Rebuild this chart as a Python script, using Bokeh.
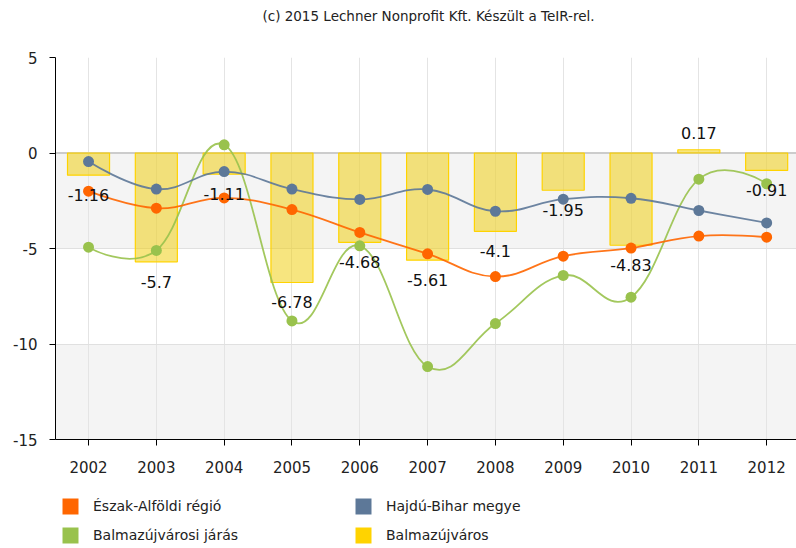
import numpy as np
from bokeh.plotting import figure
from bokeh.layouts import column
from bokeh.models import (ColumnDataSource, BoxAnnotation, Span, Legend, LegendItem,
                          FixedTicker, Label)
from bokeh.core.properties import value
from bokeh.embed import file_html
from bokeh.resources import INLINE

years = ["2002", "2003", "2004", "2005", "2006", "2007", "2008", "2009", "2010", "2011", "2012"]
eszak_alfoldi = [-2.00, -2.89, -2.35, -2.96, -4.16, -5.28, -6.47, -5.40, -4.98, -4.35, -4.41]
hajdu_bihar = [-0.45, -1.89, -0.97, -1.89, -2.43, -1.91, -3.05, -2.42, -2.37, -3.01, -3.66]
balmaz_jaras = [-4.93, -5.10, 0.43, -8.79, -4.86, -11.18, -8.93, -6.41, -7.55, -1.37, -1.61]
balmazujvaros = [-1.16, -5.70, -1.11, -6.78, -4.68, -5.61, -4.10, -1.95, -4.83, 0.17, -0.91]
y_ticks = [-15, -10, -5, 0, 5]
series_names = ["Észak-Alföldi régió", "Hajdú-Bihar megye", "Balmazújvárosi járás", "Balmazújváros"]
title_text = "(c) 2015 Lechner Nonprofit Kft. Készült a TeIR-rel."

C_OR = "#ff6600"
C_BL = "#5d7898"
C_GR = "#99c24d"
C_GO = "#ffd300"
FONT = "DejaVu Sans"

xs = list(range(len(years)))

# title strip (its frame is aligned with the main frame, which starts 55px in)
tf = figure(width=796, height=30, output_backend="svg", toolbar_location=None,
            x_range=(0, 1), y_range=(0, 1), min_border=0, outline_line_color=None)
tf.axis.visible = False
tf.grid.visible = False
tf.add_layout(Label(x=373, y=15, x_units="screen", y_units="screen", text=title_text,
                    text_align="center", text_baseline="middle", text_font=FONT,
                    text_font_size="13.5px", text_color="#222222"))

p = figure(width=796, height=454, output_backend="svg", toolbar_location=None,
           x_range=(-0.487, 10.44), y_range=(-15, 5),
           min_border_left=55, min_border_right=0, min_border_top=27, min_border_bottom=45,
           outline_line_color=None, background_fill_color="white")

# bands
for top, bot in [(0, -5), (-10, -15)]:
    p.add_layout(BoxAnnotation(top=top, bottom=bot, fill_color="#f4f4f4", fill_alpha=1,
                               line_color=None, level="image"))

p.xgrid.ticker = FixedTicker(ticks=xs)
p.xgrid.grid_line_color = "#e4e4e4"
p.ygrid.grid_line_color = "#e0e0e0"
p.add_layout(Span(location=0, dimension="width", line_color="#cccccc", line_width=2,
                  level="underlay"))

# axes
p.xaxis.ticker = FixedTicker(ticks=xs)
p.xaxis.major_label_overrides = {i: y for i, y in enumerate(years)}
p.yaxis.ticker = FixedTicker(ticks=y_ticks)
p.yaxis.major_label_overrides = {t: str(t) for t in y_ticks}
for ax in (p.xaxis[0], p.yaxis[0]):
    ax.axis_line_color = "black"
    ax.major_tick_line_color = "black"
    ax.major_tick_out = 6
    ax.major_tick_in = 0
    ax.minor_tick_line_color = None
    ax.major_label_text_font = FONT
    ax.major_label_text_font_size = "15px"
    ax.major_label_text_color = "#222222"
p.xaxis.major_label_standoff = 15
p.yaxis.major_label_standoff = 12

# bars
bar_src = ColumnDataSource(dict(x=xs, top=balmazujvaros))
p.vbar(x="x", top="top", bottom=0, width=0.62, source=bar_src,
       fill_color="#f0cc00", fill_alpha=0.5, line_color=C_GO, line_width=1.2)


def spline(xv, yv, smoothing=1.5):
    n = len(xv)
    lcx, lcy, rcx, rcy = list(xv), list(yv), list(xv), list(yv)
    d = smoothing + 1
    for i in range(1, n - 1):
        px, py = xv[i], yv[i]
        lx, ly = xv[i - 1], yv[i - 1]
        nx, ny = xv[i + 1], yv[i + 1]
        Lx = (smoothing * px + lx) / d
        Ly = (smoothing * py + ly) / d
        Rx = (smoothing * px + nx) / d
        Ry = (smoothing * py + ny) / d
        corr = ((Ry - Ly) * (Rx - px)) / (Rx - Lx) + py - Ry
        lcx[i], lcy[i], rcx[i], rcy[i] = Lx, Ly + corr, Rx, Ry + corr
    return dict(x0=xv[:-1], y0=yv[:-1], x1=xv[1:], y1=yv[1:],
                cx0=rcx[:-1], cy0=rcy[:-1], cx1=lcx[1:], cy1=lcy[1:])


for ys, col in [(balmaz_jaras, C_GR), (eszak_alfoldi, C_OR), (hajdu_bihar, C_BL)]:
    p.bezier(x0="x0", y0="y0", x1="x1", y1="y1", cx0="cx0", cy0="cy0", cx1="cx1", cy1="cy1",
             source=ColumnDataSource(spline(xs, ys)), line_color=col, line_width=1.8, line_alpha=0.9)
    p.scatter(x=xs, y=ys, size=11, fill_color=col, line_color=None)

# data labels
lab_src = ColumnDataSource(dict(x=xs, y=balmazujvaros,
                                txt=[("%g" % v) for v in balmazujvaros],
                                off=[20 if v < 0 else -17 for v in balmazujvaros]))
p.text(x="x", y="y", text="txt", y_offset="off", source=lab_src, text_align="center",
       text_baseline="middle", text_font=value(FONT), text_font_size="16px", text_color="#111111")

# legend strip
lf = figure(width=796, height=64, output_backend="svg", toolbar_location=None,
            x_range=(0, 1), y_range=(0, 1), min_border=0, outline_line_color=None)
lf.axis.visible = False
lf.grid.visible = False
rs = []
for col in [C_OR, C_BL, C_GR, C_GO]:
    rs.append(lf.quad(left=[np.nan], right=[np.nan], top=[np.nan], bottom=[np.nan],
                      fill_color=col, line_color=None))
order = [0, 2, 1, 3]
legend = Legend(items=[LegendItem(label=series_names[i], renderers=[rs[i]]) for i in order],
                ncols=2, location=(5, 3), glyph_width=20, glyph_height=20,
                label_standoff=13, label_width=251, spacing=9, padding=0, margin=0,
                border_line_color=None, background_fill_alpha=0,
                label_text_font=FONT, label_text_font_size="14px", label_text_color="#222222")
lf.add_layout(legend, "center")

open("out.html", "w").write(file_html(column(tf, p, lf), INLINE))
